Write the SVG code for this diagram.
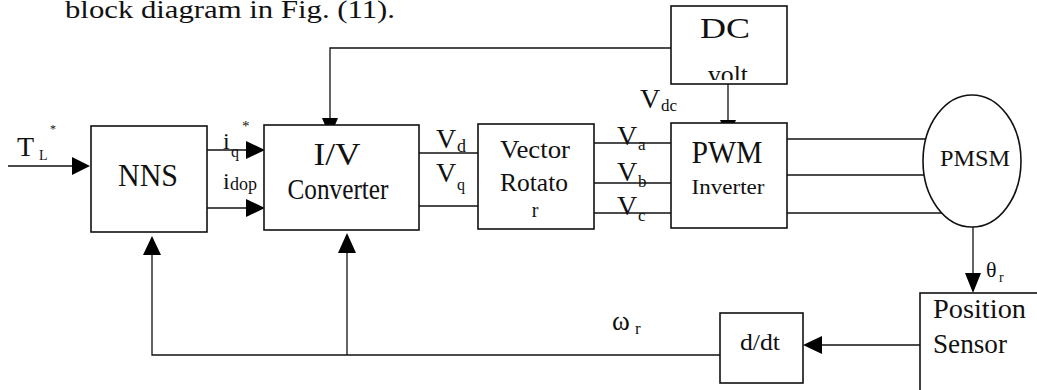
<svg xmlns="http://www.w3.org/2000/svg" width="1037" height="390" viewBox="0 0 1037 390">
<style>
.box{fill:#fff;stroke:#111;stroke-width:1.6}
.ln{fill:none;stroke:#111;stroke-width:1.3}
.hd{fill:#000;stroke:none}
text{font-family:"Liberation Serif","Times New Roman",serif;fill:#111}
.c{text-anchor:middle}
</style>
<defs>
<clipPath id="dcclip"><rect x="671" y="6" width="116" height="74"/></clipPath>
</defs>
<rect width="1037" height="390" fill="#fff"/>
<text x="65" y="18" font-size="25" textLength="330" lengthAdjust="spacingAndGlyphs">block diagram in Fig. (11).</text>

<g id="connectors">
  <line class="ln" x1="8" y1="166" x2="72" y2="166"/>
  <polygon class="hd" points="72,157 90,166 72,175"/>
  <line class="ln" x1="207" y1="150" x2="246" y2="150"/>
  <polygon class="hd" points="246,141 265,150 246,159"/>
  <line class="ln" x1="207" y1="208" x2="246" y2="208"/>
  <polygon class="hd" points="246,199 265,208 246,217"/>
  <polyline class="ln" points="671,48 330,48 330,119"/>
  <polygon class="hd" points="322,118 330,137 338,118"/>
  <line class="ln" x1="728" y1="84" x2="728" y2="121"/>
  <polygon class="hd" points="720,120 728,138 736,120"/>
  <line class="ln" x1="419" y1="153" x2="478" y2="153"/>
  <line class="ln" x1="419" y1="206" x2="478" y2="206"/>
  <line class="ln" x1="594" y1="143" x2="671" y2="143"/>
  <line class="ln" x1="594" y1="183" x2="671" y2="183"/>
  <line class="ln" x1="594" y1="213" x2="671" y2="213"/>
  <line class="ln" x1="787" y1="139" x2="927" y2="139"/>
  <line class="ln" x1="787" y1="175" x2="924" y2="175"/>
  <line class="ln" x1="787" y1="213" x2="942" y2="213"/>
  <line class="ln" x1="973" y1="227" x2="973" y2="274"/>
  <polygon class="hd" points="965,273 973,293 981,273"/>
  <line class="ln" x1="920" y1="345" x2="821" y2="345"/>
  <polygon class="hd" points="822,336 803,345 822,354"/>
  <polyline class="ln" points="720,355 152,355 152,254"/>
  <polygon class="hd" points="143,255 152,236 161,255"/>
  <line class="ln" x1="347" y1="355" x2="347" y2="252"/>
  <polygon class="hd" points="338,253 347,233 356,253"/>
</g>

<g id="labels">
  <text x="17" y="156" font-size="28">T</text>
  <text x="39" y="160" font-size="14">L</text>
  <text x="50" y="133" font-size="12">*</text>
  <text x="223" y="149" font-size="24">i</text>
  <text x="231" y="157" font-size="16">q</text>
  <text x="242" y="131" font-size="15">*</text>
  <text x="223" y="189" font-size="24">i</text>
  <text x="230" y="190" font-size="18">dop</text>
  <text x="436" y="148" font-size="28">V</text>
  <text x="457" y="152" font-size="18">d</text>
  <text x="436" y="182" font-size="28">V</text>
  <text x="457" y="190" font-size="16">q</text>
  <text x="617" y="145" font-size="28">V</text>
  <text x="638" y="150" font-size="17">a</text>
  <text x="617" y="181" font-size="28">V</text>
  <text x="638" y="187" font-size="17">b</text>
  <text x="617" y="215" font-size="28">V</text>
  <text x="638" y="221" font-size="17">c</text>
  <text x="640" y="108" font-size="28">V</text>
  <text x="661" y="111" font-size="17">dc</text>
  <text x="986" y="277" font-size="22">θ</text>
  <text x="999" y="282" font-size="14">r</text>
  <text x="612" y="330" font-size="27">ω</text>
  <text x="635" y="334" font-size="17">r</text>
</g>

<g id="nns">
  <rect class="box" x="91" y="126" width="116" height="106"/>
  <text class="c" x="148" y="186" font-size="31" textLength="60" lengthAdjust="spacingAndGlyphs">NNS</text>
</g>
<g id="iv-converter">
  <rect class="box" x="264" y="125" width="155" height="105"/>
  <text class="c" x="337" y="165" font-size="32" textLength="47" lengthAdjust="spacingAndGlyphs">I/V</text>
  <text class="c" x="338" y="199" font-size="30" textLength="101" lengthAdjust="spacingAndGlyphs">Converter</text>
</g>
<g id="vector-rotator">
  <rect class="box" x="478" y="124" width="116" height="105"/>
  <text class="c" x="535" y="158" font-size="25" textLength="70" lengthAdjust="spacingAndGlyphs">Vector</text>
  <text class="c" x="534" y="191" font-size="25" textLength="68" lengthAdjust="spacingAndGlyphs">Rotato</text>
  <text class="c" x="535" y="217" font-size="20">r</text>
</g>
<g id="dc-volt">
  <rect class="box" x="671" y="6" width="116" height="78"/>
  <text class="c" x="725" y="38" font-size="30" textLength="50" lengthAdjust="spacingAndGlyphs">DC</text>
  <text class="c" x="728" y="83" font-size="26" textLength="40" lengthAdjust="spacingAndGlyphs" clip-path="url(#dcclip)">volt</text>
</g>
<g id="pwm-inverter">
  <rect class="box" x="671" y="123" width="116" height="105"/>
  <text class="c" x="727" y="163" font-size="31" textLength="71" lengthAdjust="spacingAndGlyphs">PWM</text>
  <text class="c" x="728" y="194" font-size="22" textLength="73" lengthAdjust="spacingAndGlyphs">Inverter</text>
</g>
<g id="pmsm">
  <ellipse class="box" cx="972" cy="161" rx="49" ry="66"/>
  <text class="c" x="975" y="166" font-size="23" textLength="70" lengthAdjust="spacingAndGlyphs">PMSM</text>
</g>
<g id="position-sensor">
  <rect class="box" x="920" y="293" width="130" height="110"/>
  <text x="933" y="318" font-size="27" textLength="93" lengthAdjust="spacingAndGlyphs">Position</text>
  <text x="933" y="353" font-size="27" textLength="74" lengthAdjust="spacingAndGlyphs">Sensor</text>
</g>
<g id="ddt">
  <rect class="box" x="720" y="313" width="83" height="70"/>
  <text class="c" x="760" y="350" font-size="24" textLength="40" lengthAdjust="spacingAndGlyphs">d/dt</text>
</g>
</svg>
